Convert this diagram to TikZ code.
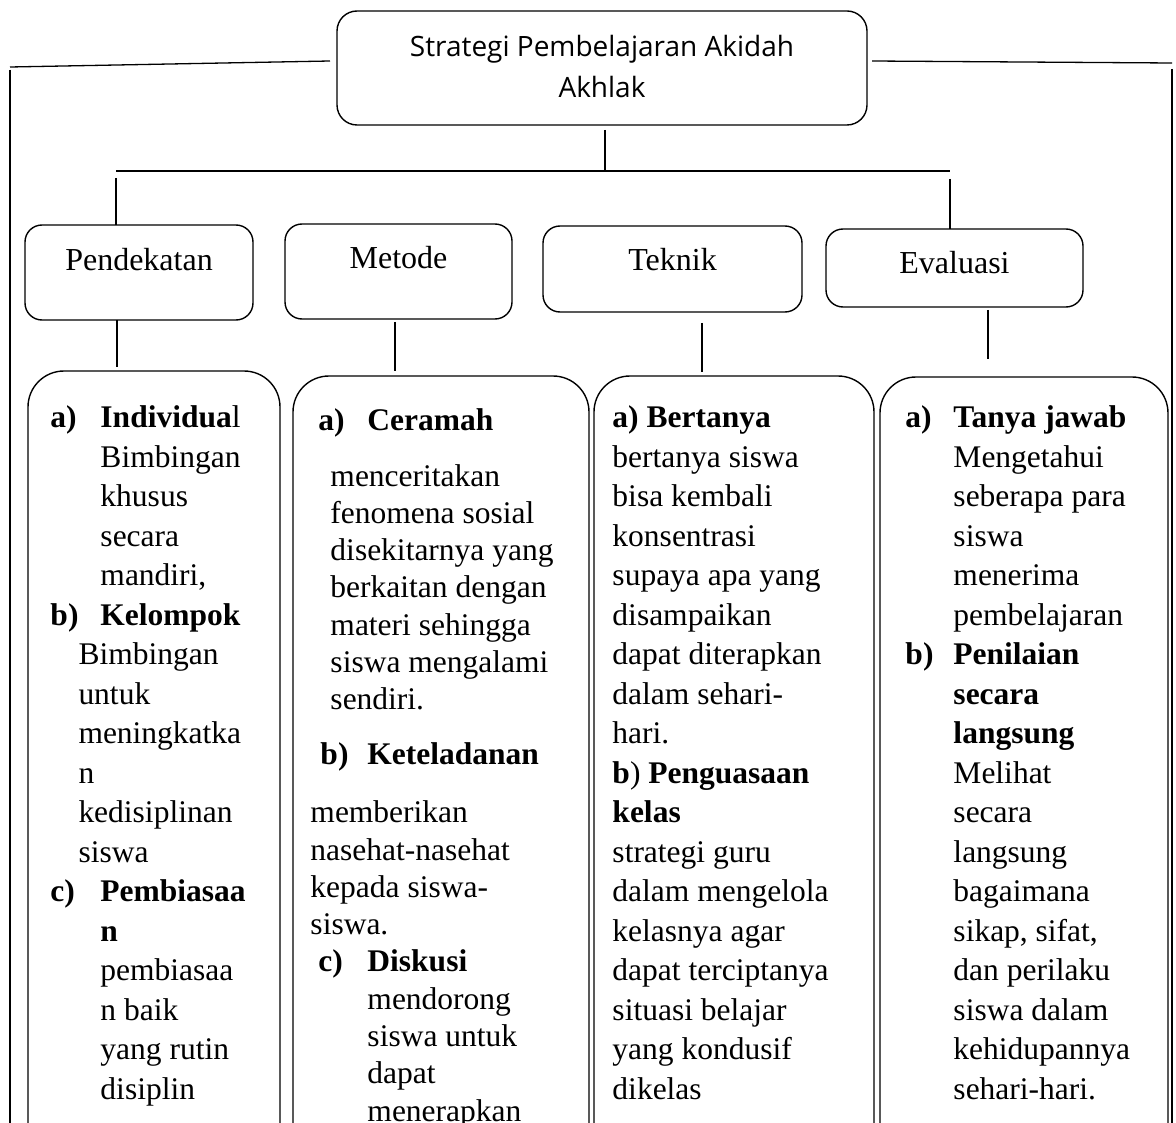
\documentclass[tikz,border=0pt]{standalone}
\usepackage{fontspec}
\setmainfont{Liberation Serif}
\newfontfamily\headsans{Open Sans}
% one text line inside a column: pieces placed at absolute x offsets
\newcommand\colat[2]{\rlap{\kern#1pt #2}}
\newcommand\colrow[1]{\hbox{#1}}
\newcommand\headtext{\vtop{\baselineskip=41pt
  \hbox to 0pt{\hss Strategi Pembelajaran Akidah\hss}
  \hbox to 0pt{\hss Akhlak\hss}}}
\begin{document}
\begin{tikzpicture}[x=1pt,y=-1pt,
  every node/.style={inner sep=0pt, outer sep=0pt},
  wire/.style={line width=1.3pt},
  headbox/.style={draw, line width=1.4pt, rounded corners=20pt, anchor=north west,
    font=\headsans\fontsize{28pt}{41pt}\selectfont},
  catbox/.style={draw, line width=1.4pt, rounded corners=17pt, anchor=north west,
    font=\fontsize{32pt}{38pt}\selectfont},
  colbox/.style={draw, line width=1.4pt, rounded corners=36pt, anchor=north west,
    minimum height=850pt},
  coltext/.style={anchor=base west, font=\fontsize{31.5pt}{39.5pt}\selectfont}
]
\useasboundingbox (0,0) rectangle (1176,1123);
\clip (0,0) rectangle (1176,1123);

% title box
\node[headbox, minimum width=530pt, text height=46pt, text depth=68pt] (head) at (337,11) {\headtext};

% four category boxes
\node[catbox, minimum width=228pt, text height=46pt, text depth=49pt] (pend) at (25,225) {Pendekatan};
\node[catbox, minimum width=227pt, text height=45pt, text depth=50pt] (meth) at (285,224) {Metode};
\node[catbox, minimum width=259pt, text height=45pt, text depth=41pt] (tekn) at (543,226) {Teknik};
\node[catbox, minimum width=257pt, text height=45pt, text depth=33pt] (eval) at (826,229) {Evaluasi};

% tall column boxes, open below
\node[colbox, minimum width=252pt] (c1) at (28,371) {};
\node[colbox, minimum width=296pt] (c2) at (293,376) {};
\node[colbox, minimum width=280pt] (c3) at (594,376) {};
\node[colbox, minimum width=288pt] (c4) at (880,377) {};

% bus under the title
\coordinate (busL) at (116,171);
\coordinate (busR) at (950,171);
\draw[wire] (busL) -- (busR);
\draw[wire] ([xshift=3pt,yshift=-5pt]head.south) -- ([xshift=3pt]head.south |- busL);
\draw[wire] ([yshift=-7pt]busL) -- (busL |- pend.north);
\draw[wire] ([yshift=-8pt]busR) -- (busR |- eval.north);

% category to column
\draw[wire, shorten >=4pt] ([xshift=-22pt]pend.south) -- ([xshift=-22pt]pend.south |- c1.north);
\draw[wire, shorten <=3pt, shorten >=5pt] ([xshift=-3.5pt]meth.south) -- ([xshift=-3.5pt]meth.south |- c2.north);
\draw[wire, shorten <=11pt, shorten >=4pt] ([xshift=29.5pt]tekn.south) -- ([xshift=29.5pt]tekn.south |- c3.north);
\draw[wire, shorten <=3pt, shorten >=18pt] ([xshift=33.5pt]eval.south) -- ([xshift=33.5pt]eval.south |- c4.north);

% outer frame lines from the title
\coordinate (oL) at (10,67);
\coordinate (oLb) at (10,1140);
\coordinate (oR) at (1172,63);
\coordinate (oRb) at (1172,1140);
\draw[wire] ([xshift=-7pt,yshift=7pt]head.west) -- (oL);
\draw[wire] ([yshift=-3pt]oL) -- (oLb);
\draw[wire] ([xshift=5pt,yshift=7pt]head.east) -- (oR);
\draw[wire] ([yshift=-6pt]oR) -- (oRb);

% column 1: Pendekatan
\node[coltext] (t1) at (0,428) {\vtop{\baselineskip=39.5pt
  \colrow{\colat{50}{\textbf{a)}}\colat{100}{\textbf{Individua}l}}
  \colrow{\colat{100}{Bimbingan}}
  \colrow{\colat{100}{khusus}}
  \colrow{\colat{100}{secara}}
  \colrow{\colat{100}{mandiri,}}
  \colrow{\colat{50}{\textbf{b)}}\colat{100}{\textbf{Kelompok}}}
  \colrow{\colat{78}{Bimbingan}}
  \colrow{\colat{78}{untuk}}
  \colrow{\colat{78}{meningkatka}}
  \colrow{\colat{78}{n}}
  \colrow{\colat{78}{kedisiplinan}}
  \colrow{\colat{78}{siswa}}
  \colrow{\colat{50}{\textbf{c)}}\colat{100}{\textbf{Pembiasaa}}}
  \colrow{\colat{100}{\textbf{n}}}
  \colrow{\colat{100}{pembiasaa}}
  \colrow{\colat{100}{n baik}}
  \colrow{\colat{100}{yang rutin}}
  \colrow{\colat{100}{disiplin}}}};

% column 2: Metode
\node[coltext] (t2) at (0,430) {\vtop{\baselineskip=37.3pt
  \colrow{\colat{318}{\textbf{a)}}\colat{367}{\textbf{Ceramah}}}
  \vskip 18.7pt
  \colrow{\colat{330}{menceritakan}}
  \colrow{\colat{330}{fenomena sosial}}
  \colrow{\colat{330}{disekitarnya yang}}
  \colrow{\colat{330}{berkaitan dengan}}
  \colrow{\colat{330}{materi sehingga}}
  \colrow{\colat{330}{siswa mengalami}}
  \colrow{\colat{330}{sendiri.}}
  \vskip 17.7pt
  \colrow{\colat{320}{\textbf{b)}}\colat{367}{\textbf{Keteladanan}}}
  \vskip 20.7pt
  \colrow{\colat{310}{memberikan}}
  \colrow{\colat{310}{nasehat-nasehat}}
  \colrow{\colat{310}{kepada siswa-}}
  \colrow{\colat{310}{siswa.}}
  \colrow{\colat{318}{\textbf{c)}}\colat{367}{\textbf{Diskusi}}}
  \colrow{\colat{367}{mendorong}}
  \colrow{\colat{367}{siswa untuk}}
  \colrow{\colat{367}{dapat}}
  \colrow{\colat{367}{menerapkan}}}};

% column 3: Teknik
\node[coltext] (t3) at (0,428) {\vtop{\baselineskip=39.5pt
  \colrow{\colat{612}{\textbf{a) Bertanya}}}
  \colrow{\colat{612}{bertanya siswa}}
  \colrow{\colat{612}{bisa kembali}}
  \colrow{\colat{612}{konsentrasi}}
  \colrow{\colat{612}{supaya apa yang}}
  \colrow{\colat{612}{disampaikan}}
  \colrow{\colat{612}{dapat diterapkan}}
  \colrow{\colat{612}{dalam sehari-}}
  \colrow{\colat{612}{hari.}}
  \colrow{\colat{612}{\textbf{b}) \textbf{Penguasaan}}}
  \colrow{\colat{612}{\textbf{kelas}}}
  \colrow{\colat{612}{strategi guru}}
  \colrow{\colat{612}{dalam mengelola}}
  \colrow{\colat{612}{kelasnya agar}}
  \colrow{\colat{612}{dapat terciptanya}}
  \colrow{\colat{612}{situasi belajar}}
  \colrow{\colat{612}{yang kondusif}}
  \colrow{\colat{612}{dikelas}}}};

% column 4: Evaluasi
\node[coltext] (t4) at (0,428) {\vtop{\baselineskip=39.5pt
  \colrow{\colat{905}{\textbf{a)}}\colat{953}{\textbf{Tanya jawab}}}
  \colrow{\colat{953}{Mengetahui}}
  \colrow{\colat{953}{seberapa para}}
  \colrow{\colat{953}{siswa}}
  \colrow{\colat{953}{menerima}}
  \colrow{\colat{953}{pembelajaran}}
  \colrow{\colat{905}{\textbf{b)}}\colat{953}{\textbf{Penilaian}}}
  \colrow{\colat{953}{\textbf{secara}}}
  \colrow{\colat{953}{\textbf{langsung}}}
  \colrow{\colat{953}{Melihat}}
  \colrow{\colat{953}{secara}}
  \colrow{\colat{953}{langsung}}
  \colrow{\colat{953}{bagaimana}}
  \colrow{\colat{953}{sikap, sifat,}}
  \colrow{\colat{953}{dan perilaku}}
  \colrow{\colat{953}{siswa dalam}}
  \colrow{\colat{953}{kehidupannya}}
  \colrow{\colat{953}{sehari-hari.}}}};
\end{tikzpicture}
\end{document}
